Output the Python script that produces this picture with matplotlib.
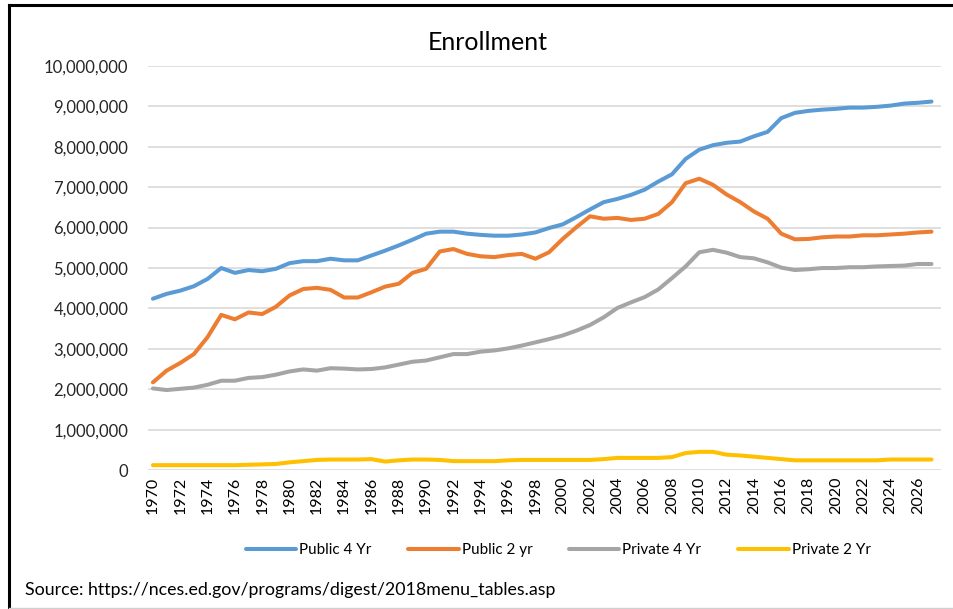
import matplotlib.pyplot as plt
from matplotlib.ticker import FuncFormatter, MultipleLocator
from matplotlib.lines import Line2D

years = list(range(1970, 2028))

# enrollment in millions
public_4yr = [4.24, 4.36, 4.44, 4.55, 4.73, 5.00, 4.88, 4.95, 4.92, 4.98,
              5.12, 5.17, 5.17, 5.23, 5.19, 5.19, 5.31, 5.43, 5.56, 5.70,
              5.85, 5.90, 5.90, 5.85, 5.82, 5.80, 5.80, 5.83, 5.88, 5.99,
              6.08, 6.26, 6.45, 6.63, 6.71, 6.81, 6.94, 7.14, 7.32, 7.70,
              7.93, 8.04, 8.10, 8.13, 8.26, 8.37, 8.71, 8.84, 8.89, 8.92,
              8.94, 8.97, 8.97, 8.99, 9.02, 9.07, 9.09, 9.12]
public_2yr = [2.17, 2.46, 2.65, 2.87, 3.29, 3.84, 3.73, 3.90, 3.86, 4.04,
              4.32, 4.48, 4.51, 4.46, 4.27, 4.27, 4.40, 4.54, 4.61, 4.88,
              4.98, 5.41, 5.47, 5.35, 5.29, 5.27, 5.32, 5.35, 5.23, 5.39,
              5.72, 6.01, 6.28, 6.22, 6.24, 6.19, 6.22, 6.34, 6.63, 7.10,
              7.21, 7.06, 6.82, 6.63, 6.40, 6.22, 5.85, 5.71, 5.72, 5.76,
              5.78, 5.78, 5.81, 5.81, 5.83, 5.85, 5.88, 5.90]
private_4yr = [2.02, 1.98, 2.01, 2.04, 2.11, 2.21, 2.21, 2.28, 2.30, 2.36,
               2.44, 2.49, 2.46, 2.52, 2.51, 2.49, 2.50, 2.54, 2.61, 2.68,
               2.71, 2.79, 2.87, 2.87, 2.93, 2.96, 3.01, 3.08, 3.16, 3.24,
               3.33, 3.45, 3.59, 3.78, 4.01, 4.15, 4.28, 4.47, 4.75, 5.04,
               5.39, 5.45, 5.38, 5.27, 5.24, 5.14, 5.01, 4.95, 4.97, 5.00,
               5.00, 5.02, 5.02, 5.04, 5.05, 5.06, 5.10, 5.10]
private_2yr = [0.12, 0.12, 0.12, 0.12, 0.12, 0.12, 0.12, 0.13, 0.14, 0.15,
               0.19, 0.22, 0.25, 0.26, 0.26, 0.26, 0.27, 0.21, 0.24, 0.26,
               0.26, 0.25, 0.22, 0.22, 0.22, 0.22, 0.24, 0.25, 0.25, 0.25,
               0.25, 0.25, 0.25, 0.27, 0.30, 0.30, 0.30, 0.30, 0.32, 0.42,
               0.45, 0.45, 0.38, 0.36, 0.33, 0.30, 0.27, 0.24, 0.24, 0.24,
               0.24, 0.24, 0.24, 0.24, 0.26, 0.26, 0.26, 0.26]

series = [("Public 4 Yr", public_4yr, "#5B9BD5"),
          ("Public 2 yr", public_2yr, "#ED7D31"),
          ("Private 4 Yr", private_4yr, "#A5A5A5"),
          ("Private 2 Yr", private_2yr, "#FFC000")]

plt.rcParams['font.family'] = ['Lato', 'DejaVu Sans']

fig = plt.figure(figsize=(9.54, 6.09), dpi=100)
ax = fig.add_axes([0.155, 0.2282, 0.831, 0.6634])

for name, vals, color in series:
    ax.plot(years, [v * 1e6 for v in vals], color=color, lw=2.9,
            solid_capstyle='round', label=name)

ax.set_ylim(0, 10e6)
ax.set_xlim(1969.63, 2027.67)
ax.yaxis.set_major_locator(MultipleLocator(1e6))
ax.yaxis.set_major_formatter(FuncFormatter(lambda v, p: f"{int(round(v)):,}"))
ax.set_xticks(years[::2])
ax.set_xticklabels([str(y) for y in years[::2]], rotation=90, fontsize=11.5)
ax.tick_params(axis='y', labelsize=12, colors='#262626', length=0, pad=14)
ax.tick_params(axis='x', length=0, pad=5, colors='#000000')
ax.grid(axis='y', color='#D9D9D9', lw=1.2)
ax.set_axisbelow(True)
for s in ax.spines.values():
    s.set_visible(False)

fig.text(0.5115, 0.931, "Enrollment", ha='center', va='center', fontsize=18)

handles = [Line2D([], [], color=c, lw=2.9, solid_capstyle='round') for _, _, c in series]
fig.legend(handles, [n for n, _, _ in series], loc='center', ncol=4,
           bbox_to_anchor=(0.585, 0.097), frameon=False, fontsize=11,
           handlelength=3.3, handletextpad=0.2, columnspacing=2.4)

fig.text(0.026, 0.031, "Source: https://nces.ed.gov/programs/digest/2018menu_tables.asp",
         ha='left', va='center', fontsize=12.8)

# outer frame
fig.add_artist(Line2D([0.0095, 1.0], [0.992, 0.992], color='black', lw=2.2))
fig.add_artist(Line2D([0.0095, 0.0095], [0.0, 0.992], color='black', lw=2.2))
fig.add_artist(Line2D([0.0095, 1.0], [0.002, 0.002], color='#D0D0D0', lw=1))

fig.savefig("out.png", dpi=100)
